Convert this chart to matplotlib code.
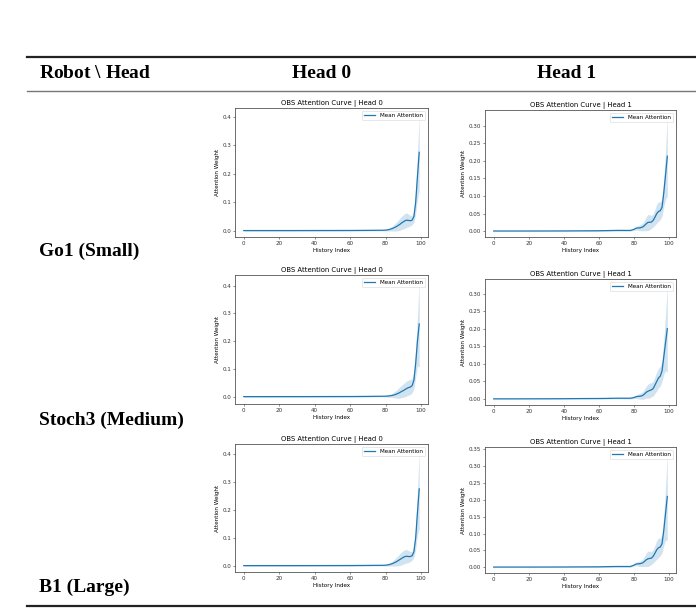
import matplotlib
matplotlib.use("Agg")
import matplotlib.pyplot as plt
from matplotlib.lines import Line2D

# history indices (flat region sampled coarsely, tail sampled per index)
hist_idx = [0, 10, 20, 30, 40, 50, 60, 65, 70, 74, 78, 80, 81, 82, 83, 84, 85, 86, 87, 88,
            89, 90, 91, 92, 93, 94, 95, 96, 97, 98, 99]

robots = ["Go1 (Small)", "Stoch3 (Medium)", "B1 (Large)"]
heads = ["Head 0", "Head 1"]

go1_h0_mean = [0.0005, 0.0005, 0.0005, 0.0005, 0.0006, 0.0007, 0.0008, 0.001, 0.0012, 0.0014, 0.0016,
               0.002, 0.003, 0.004, 0.006, 0.008, 0.011, 0.014, 0.018, 0.022, 0.027, 0.031, 0.035,
               0.037, 0.036, 0.035, 0.037, 0.05, 0.10, 0.19, 0.275]
go1_h0_std = [0.002, 0.002, 0.002, 0.002, 0.002, 0.002, 0.002, 0.002, 0.002, 0.002, 0.002,
              0.003, 0.004, 0.005, 0.007, 0.009, 0.012, 0.015, 0.018, 0.021, 0.023, 0.025, 0.026,
              0.025, 0.022, 0.018, 0.016, 0.02, 0.04, 0.08, 0.135]
go1_h1_mean = [0.0003, 0.0003, 0.0003, 0.0004, 0.0005, 0.0008, 0.001, 0.0015, 0.002, 0.002, 0.002,
               0.005, 0.008, 0.009, 0.009, 0.010, 0.012, 0.016, 0.021, 0.025, 0.025, 0.026, 0.031,
               0.040, 0.050, 0.056, 0.058, 0.068, 0.11, 0.16, 0.213]
go1_h1_std = [0.0005, 0.0005, 0.0005, 0.0006, 0.0008, 0.001, 0.0012, 0.0015, 0.0018, 0.002, 0.002,
              0.003, 0.005, 0.006, 0.008, 0.009, 0.011, 0.015, 0.02, 0.023, 0.021, 0.018, 0.019,
              0.023, 0.027, 0.028, 0.025, 0.025, 0.04, 0.07, 0.115]

stoch3_h0_mean = [0.0004, 0.0004, 0.0005, 0.0005, 0.0006, 0.0007, 0.0008, 0.001, 0.0012, 0.0015, 0.0018,
                  0.002, 0.0025, 0.003, 0.004, 0.005, 0.007, 0.009, 0.012, 0.015, 0.019, 0.022, 0.026,
                  0.03, 0.033, 0.035, 0.04, 0.06, 0.12, 0.2, 0.262]
stoch3_h0_std = [0.002, 0.002, 0.002, 0.002, 0.002, 0.002, 0.002, 0.002, 0.002, 0.002, 0.002,
                 0.003, 0.004, 0.005, 0.006, 0.008, 0.011, 0.014, 0.017, 0.02, 0.022, 0.024, 0.026,
                 0.027, 0.027, 0.027, 0.025, 0.03, 0.05, 0.09, 0.155]
stoch3_h1_mean = [0.0002, 0.0002, 0.0003, 0.0004, 0.0006, 0.001, 0.0012, 0.0015, 0.002, 0.002, 0.002,
                  0.004, 0.006, 0.007, 0.0075, 0.008, 0.01, 0.014, 0.019, 0.022, 0.024, 0.026, 0.03,
                  0.04, 0.05, 0.06, 0.065, 0.08, 0.12, 0.16, 0.2]
stoch3_h1_std = [0.0005, 0.0005, 0.0005, 0.0006, 0.0008, 0.001, 0.0012, 0.0015, 0.0018, 0.002, 0.002,
                 0.003, 0.005, 0.006, 0.008, 0.009, 0.011, 0.014, 0.017, 0.02, 0.021, 0.02, 0.021,
                 0.024, 0.027, 0.028, 0.028, 0.03, 0.05, 0.08, 0.125]

b1_h0_mean = [0.0005, 0.0005, 0.0005, 0.0005, 0.0006, 0.0007, 0.0008, 0.001, 0.0012, 0.0014, 0.0016,
              0.002, 0.003, 0.004, 0.006, 0.008, 0.011, 0.014, 0.018, 0.022, 0.026, 0.03, 0.033,
              0.034, 0.033, 0.033, 0.036, 0.05, 0.10, 0.19, 0.275]
b1_h0_std = [0.002, 0.002, 0.002, 0.002, 0.002, 0.002, 0.002, 0.002, 0.002, 0.002, 0.002,
             0.003, 0.004, 0.005, 0.007, 0.009, 0.012, 0.015, 0.018, 0.021, 0.023, 0.024, 0.025,
             0.024, 0.021, 0.018, 0.016, 0.02, 0.04, 0.08, 0.14]
b1_h1_mean = [0.0003, 0.0003, 0.0003, 0.0004, 0.0005, 0.0008, 0.001, 0.0015, 0.002, 0.002, 0.002,
              0.006, 0.009, 0.010, 0.010, 0.011, 0.013, 0.017, 0.022, 0.025, 0.026, 0.027, 0.033,
              0.042, 0.052, 0.058, 0.06, 0.07, 0.11, 0.16, 0.21]
b1_h1_std = [0.0005, 0.0005, 0.0005, 0.0006, 0.0008, 0.001, 0.0012, 0.0015, 0.0018, 0.002, 0.002,
             0.003, 0.005, 0.006, 0.008, 0.009, 0.011, 0.015, 0.02, 0.023, 0.021, 0.019, 0.02,
             0.024, 0.028, 0.029, 0.026, 0.027, 0.045, 0.08, 0.13]

curves = [
    [(go1_h0_mean, go1_h0_std), (go1_h1_mean, go1_h1_std)],
    [(stoch3_h0_mean, stoch3_h0_std), (stoch3_h1_mean, stoch3_h1_std)],
    [(b1_h0_mean, b1_h0_std), (b1_h1_mean, b1_h1_std)],
]

plt.rcParams["mathtext.fontset"] = "stix"

W, H = 696, 614
fig = plt.figure(figsize=(W / 100, H / 100), dpi=100)

def px(x0, y0, x1, y1):
    # pixel box -> figure fraction rect
    return [x0 / W, 1 - y1 / H, (x1 - x0) / W, (y1 - y0) / H]

# axes boxes in pixels (left, top, right, bottom)
boxes = [
    [(235, 108, 428, 237), (485, 110, 676, 237)],
    [(235, 275, 428, 404), (485, 279, 676, 405)],
    [(235, 444, 428, 572), (485, 447, 676, 573)],
]

serif = ["Liberation Serif", "DejaVu Serif"]
big = 14

# table rules
for y, lw in [(57, 1.6), (90.5, 1.0), (605.5, 1.6)]:
    fig.add_artist(Line2D([27 / W, 1.0], [1 - y / H, 1 - y / H], transform=fig.transFigure,
                          color="#222222" if lw > 1.2 else "#777777", lw=lw))

fig.text(39 / W, 1 - 74 / H, "Robot $\\backslash$ Head", family=serif, weight="bold",
         fontsize=big, ha="left", va="center")
fig.text(322 / W, 1 - 74 / H, "Head 0", family=serif, weight="bold", fontsize=big,
         ha="center", va="center")
fig.text(567 / W, 1 - 74 / H, "Head 1", family=serif, weight="bold", fontsize=big,
         ha="center", va="center")

label_y = [251, 420, 587]
for r, name in enumerate(robots):
    fig.text(39 / W, 1 - label_y[r] / H, name, family=serif, weight="bold", fontsize=big,
             ha="left", va="center")

s = 0.41
for r in range(3):
    for c in range(2):
        mean, std = curves[r][c]
        lo = [m - d for m, d in zip(mean, std)]
        hi = [m + d for m, d in zip(mean, std)]
        ax = fig.add_axes(px(*boxes[r][c]))
        ax.plot(hist_idx, mean, color="C0", lw=0.9, label="Mean Attention")
        ax.fill_between(hist_idx, lo, hi, color="C0", alpha=0.2, lw=0)
        ax.set_title("OBS Attention Curve | " + heads[c], fontsize=12 * s, pad=6 * s)
        ax.set_xlabel("History Index", fontsize=10 * s, labelpad=4 * s)
        ax.set_ylabel("Attention Weight", fontsize=10 * s, labelpad=4 * s)
        ax.set_xticks([0, 20, 40, 60, 80, 100])
        ax.tick_params(labelsize=10 * s, length=3.5 * s, width=0.4, pad=3.5 * s,
                       colors="#333333")
        for sp in ax.spines.values():
            sp.set_linewidth(0.6)
            sp.set_color("#555555")
        ax.legend(loc="upper right", fontsize=10 * s, handlelength=2.0, borderpad=0.4,
                  framealpha=0.8, edgecolor="#cccccc").get_frame().set_linewidth(0.4)

fig.savefig("out.png", dpi=100)
